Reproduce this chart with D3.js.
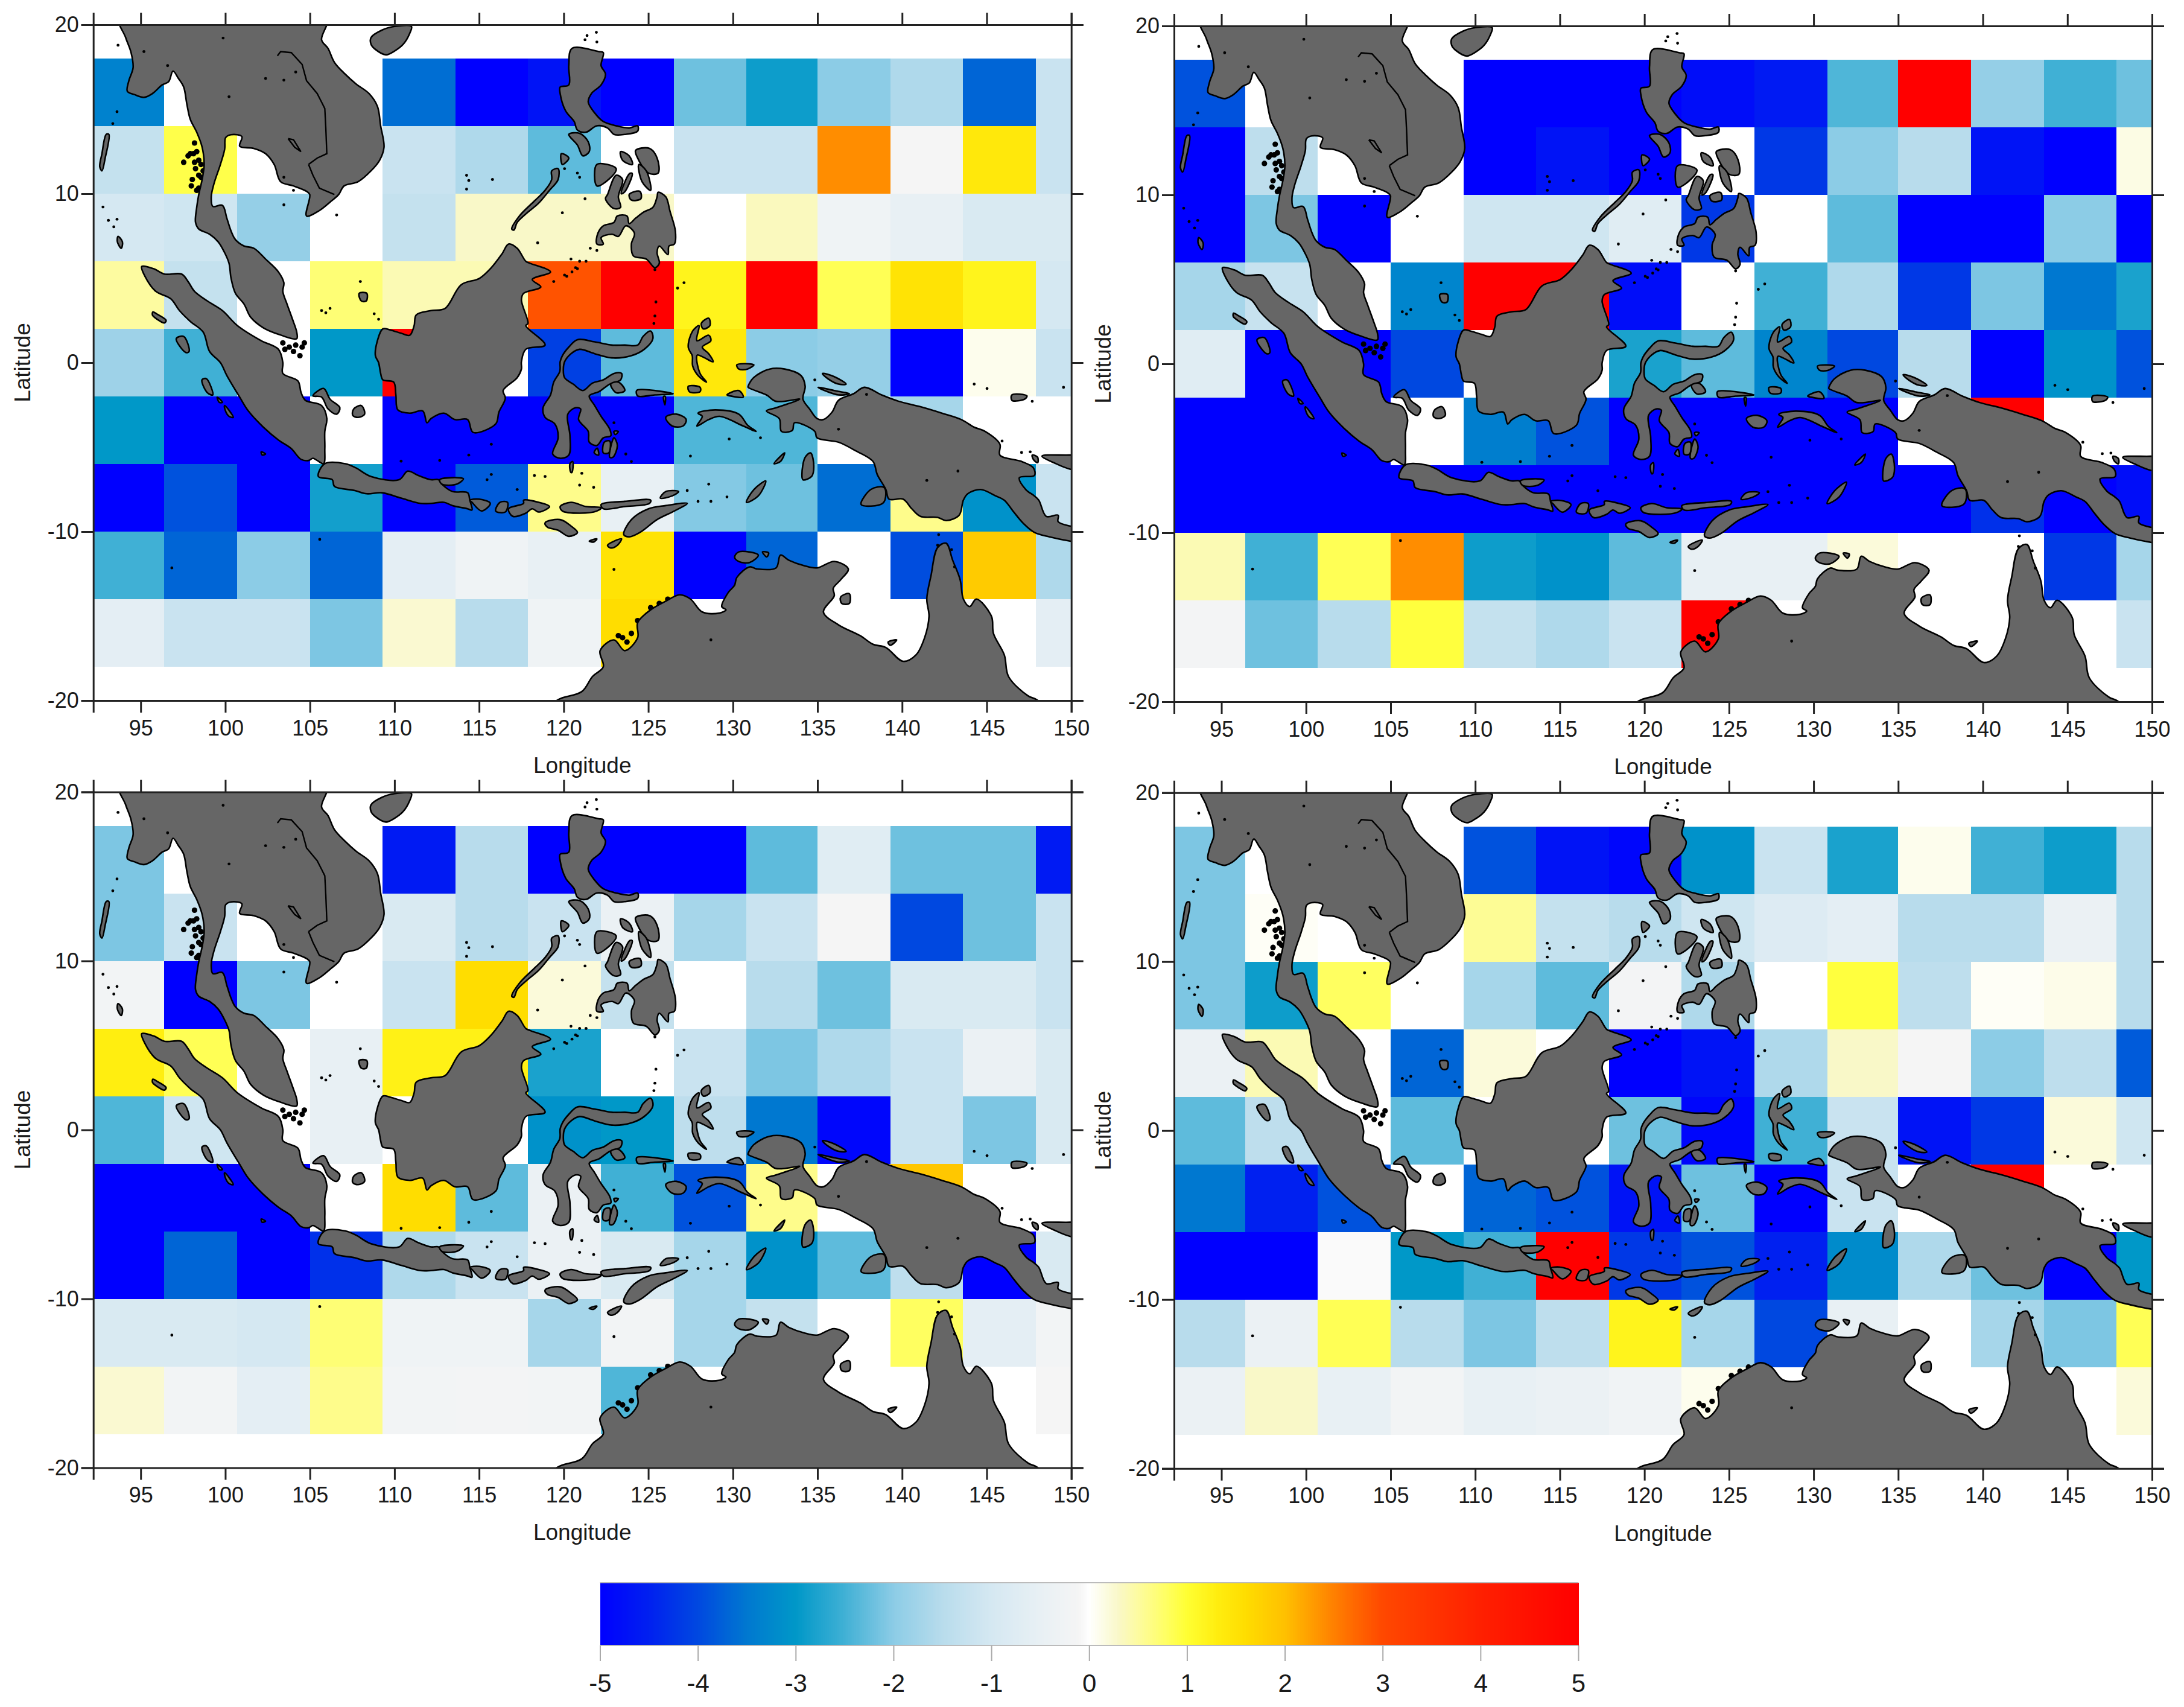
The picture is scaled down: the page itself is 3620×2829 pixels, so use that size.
<!DOCTYPE html>
<html><head><meta charset="utf-8">
<script src="https://cdnjs.cloudflare.com/ajax/libs/d3/7.8.5/d3.min.js"></script>
<style>html,body{margin:0;background:#fff}svg{display:block}text{font-family:"Liberation Sans",Arial,sans-serif;fill:#1a1a1a}</style>
</head><body><svg id="c" width="3620" height="2829"></svg>
<script>
const lonEdges=[92.2,96.4,100.7,105,109.3,113.6,117.9,122.2,126.5,130.8,135,139.3,143.6,147.9,150];
const latEdges=[18,14,10,6,2,-2,-6,-10,-14,-18];
const _=null;
const panelA=[
[-3.35,_,_,_,-3.6,-5,-4.7,-5,-2.2,-2.9,-2,-1.6,-3.7,-1.2],
[-1.3,0.9,_,_,-1.2,-1.6,-2.3,_,-1.2,-1.2,2.4,-0.1,1.4,-1.2],
[-1,-1.1,-1.9,_,-1.3,0.3,0.3,0.3,_,0.35,-0.3,-0.5,-0.9,-0.9],
[0.5,-1.3,_,0.7,0.4,0.4,2.9,5,1.2,5,0.85,1.5,1.2,-1],
[-1.8,-2.5,_,-3,5,_,-4.1,-2.3,1.4,-2,-1.9,-5,0.1,-1.2],
[-3,-5,-5,_,-5,-5,-5,-5,-2.4,-2.4,_,-1.7,_,_],
[-5,-3.9,-5,-2.85,-5,-3.8,0.6,-0.5,-2.05,-2.2,-3.6,0.6,-3.1,-1.2],
[-2.5,-3.7,-2,-3.7,-0.6,-0.3,-0.5,1.5,-5,-3.7,_,-3.95,1.85,-1.6],
[-0.6,-1.2,-1.2,-2.1,0.25,-1.5,-0.3,1.6,_,_,_,_,_,-0.6]];
const panelB=[
[-3.9,_,_,_,-5,-5,-5,-4.8,-4.6,-2.4,5,-1.9,-2.5,-2.2],
[-5,-1.4,_,_,-5,-4.7,-5,_,-4.2,-2,-1.5,-4.7,-5,0.15],
[-5,-2.1,-5,_,-1.1,-1.1,-0.7,-4.2,_,-2.3,-5,-5,-2,-5],
[-1.7,-1.25,_,-3.3,5,5,-4.8,_,-2.5,-1.6,-4.2,-2.1,-3.5,-2.8],
[-0.7,-5,-5,-4,_,_,-2.8,-2.3,-3.3,-4,-1.5,-5,-3.1,-3.9],
[-5,-5,-5,_,-3.4,-3.9,-5,-5,-5,-5,_,5,_,_],
[-5,-5,-5,-5,-5,-5,-5,-5,-5,-5,-5,-4.3,-5,-4.8],
[0.4,-2.5,0.85,2.4,-2.9,-3.1,-2.3,-0.5,-0.5,0.2,_,_,-4.2,-1.7],
[-0.15,-2.2,-1.5,0.95,-1.3,-1.6,-1.2,5,_,_,_,_,_,-1.2]];
const panelC=[
[-2.1,_,_,_,-4.6,-1.5,-5,-5,-5,-2.3,-0.7,-2.2,-2.2,-4.6],
[-2.1,-1.2,_,_,-0.9,-1.5,-1.2,-0.4,-1.7,-1.2,-0.1,-4,-2.2,-1.2],
[-0.2,-5,-2.1,_,-1.2,1.6,0.2,-1.3,_,-1.5,-2.2,-0.9,-0.9,-1.2],
[1.3,0.85,_,-0.5,1.25,1.25,-2.8,_,-1.2,-2.1,-1.6,-1.2,-0.4,-0.9],
[-2.4,-1.1,_,-0.5,_,_,-3.1,-3,-1.4,-3.5,-4.9,-1.2,-2.1,-0.9],
[-5,-5,-5,_,1.6,-2.3,-0.4,-2.5,-3.9,0.6,_,1.9,_,_],
[-5,-3.7,-5,-4.3,-1.6,-1.2,-0.4,-0.9,-1.7,-3.1,-2.3,-1.4,-5,-0.9],
[-0.9,-0.9,-1,0.7,-0.3,-0.3,-1.7,-0.2,-1.7,-1.3,_,0.8,-0.6,-0.2],
[0.25,-0.2,-0.6,0.6,-0.2,-0.15,-0.2,-2.4,_,_,_,_,_,-0.1]];
const panelD=[
[-2.1,_,_,_,-3.9,-4.7,-4.9,-3.1,-1.2,-2.8,0.1,-2.5,-2.9,-1.5],
[-2.1,0.05,_,_,0.55,-1.3,-1.5,-1.1,-0.8,-0.6,-1.5,-1.5,-0.4,-1.5],
[-2.1,-2.9,0.8,_,-1.7,-2.3,-0.15,-1.6,_,0.95,-1.4,0.05,0.12,-1.5],
[-0.4,0.4,_,-3.7,0.2,_,-5,-4.7,-1.6,0.3,-0.1,-2,-1.4,-3.8],
[-2.3,-1.4,_,-2.3,_,_,-2.2,-4.9,-2.5,-1.2,-4.7,-4.2,0.2,-1.1],
[-3.5,-4.5,-3.9,_,-3.7,-3.9,-4.7,-2.2,-5,-1.2,_,5,_,_],
[-5,-5,-0.05,-3,-2.5,5,-4.2,-3.9,-4.5,-3.2,-1.6,-2.2,-5,-3],
[-1.5,-0.4,0.85,-1.5,-2.1,-1.4,1.2,-1.7,-4,-0.5,_,-1.7,-2.1,0.85],
[-0.4,0.3,-0.5,-0.2,-0.5,-0.4,-0.25,0.1,_,_,_,_,_,0.2]];

const lonTicks=[95,100,105,110,115,120,125,130,135,140,145,150];
const latTicks=[-20,-10,0,10,20];
const barTicks=[-5,-4,-3,-2,-1,0,1,2,3,4,5];
const colorStops=[-5,-4.5,-4,-3.5,-3,-2.5,-2,-1.5,-1,-0.5,-0.1,0,0.3,0.5,0.8,1,1.3,1.6,2,2.5,3,4,5];
const colorValues=["#0000ff","#0020f0","#0048e0","#0078d0","#0098c8","#40b0d5","#8ccce6","#b8dcec","#d5e8f2","#e8f0f4","#f5f5f5","#ffffff","#f9f8c8","#fdfba0","#ffff60","#ffff33","#ffee10","#ffdd00","#ffc000","#ff8000","#ff4800","#ff2000","#ff0000"];

const landPolygons=[
[[93.73,20.5],[94.11,19.24],[94.43,18.35],[94.55,17.46],[94.30,16.69],[94.21,16.06],[94.62,15.87],[95.19,15.70],[95.70,15.93],[96.27,16.44],[96.65,16.63],[96.91,17.26],[97.23,16.82],[97.54,16.31],[97.73,15.29],[97.93,14.40],[98.31,13.64],[98.63,12.75],[98.75,11.73],[98.63,10.84],[98.43,9.95],[98.31,9.19],[98.24,8.30],[98.43,7.91],[99.07,7.60],[99.58,7.15],[99.96,6.51],[100.22,5.88],[100.34,4.99],[100.60,4.10],[101.11,3.46],[101.49,2.70],[102.25,2.06],[103.14,1.68],[104.22,1.42],[104.22,1.81],[103.97,2.57],[103.65,3.46],[103.40,4.22],[103.46,4.73],[103.14,5.37],[102.38,6.13],[101.68,6.77],[101.11,6.90],[100.60,7.28],[100.34,7.79],[100.09,8.55],[99.83,9.31],[99.26,9.25],[99.17,9.82],[99.33,10.59],[99.71,11.73],[99.96,12.62],[100.02,13.32],[100.34,13.49],[100.98,13.38],[100.85,12.81],[101.68,12.68],[102.38,12.37],[102.89,11.73],[103.27,10.71],[104.03,10.46],[104.80,10.14],[104.99,9.95],[104.80,8.68],[105.56,9.0],[106.19,9.50],[106.70,9.95],[107.02,10.46],[107.85,10.71],[108.61,11.35],[109.12,11.98],[109.38,12.75],[109.18,14.02],[108.99,15.17],[108.49,15.93],[107.72,16.50],[107.09,17.07],[106.45,17.77],[106.07,18.60],[105.69,19.11],[106.0,20.5]],
[[108.61,19.24],[109.25,19.68],[110.01,19.9],[111.0,19.9],[110.9,19.49],[110.52,18.85],[109.95,18.41],[109.50,18.22],[108.87,18.54],[108.61,18.85]],
[[95.06,5.69],[95.25,5.11],[95.89,4.22],[96.78,3.78],[97.29,3.08],[97.93,2.44],[98.69,1.81],[99.07,0.66],[99.71,0],[100.09,-0.76],[100.85,-2.04],[101.36,-2.86],[102.25,-3.82],[103.14,-4.58],[103.90,-5.09],[104.48,-5.73],[104.92,-5.79],[105.18,-5.66],[105.43,-5.79],[105.81,-5.98],[105.88,-5.09],[105.88,-4.07],[106.0,-3.31],[105.69,-2.54],[104.73,-2.23],[104.48,-1.78],[104.29,-1.08],[103.40,-0.64],[103.40,0],[103.14,0.79],[102.12,1.30],[100.72,2.19],[99.83,3.08],[98.94,3.65],[98.18,4.22],[97.80,4.80],[97.42,5.24],[96.40,5.24],[95.76,5.56]],
[[105.18,-1.97],[105.81,-1.53],[106.19,-2.16],[106.77,-2.67],[106.58,-3.05],[106.07,-2.74],[105.69,-2.04]],
[[107.59,-2.74],[108.04,-2.54],[108.23,-3.05],[107.85,-3.24],[107.53,-3.12]],
[[105.50,-6.74],[105.88,-5.98],[107.09,-5.98],[107.72,-6.23],[108.61,-6.74],[110.27,-6.93],[110.78,-6.42],[111.41,-6.68],[112.16,-6.93],[112.61,-6.93],[112.80,-7.19],[113.43,-7.63],[114.32,-7.70],[114.45,-8.14],[114.58,-8.72],[114.32,-8.65],[113.43,-8.46],[112.92,-8.27],[112.16,-8.33],[111.54,-8.33],[110.39,-8.02],[109.25,-7.70],[108.36,-7.76],[107.66,-7.57],[106.45,-7.32],[106.32,-6.93]],
[[112.67,-6.93],[114.07,-6.87],[113.69,-7.19],[112.80,-7.19]],
[[114.45,-8.14],[115.02,-8.08],[115.66,-8.33],[115.15,-8.78],[114.58,-8.27]],
[[115.98,-8.78],[116.23,-8.27],[116.68,-8.27],[116.55,-8.84]],
[[116.74,-8.65],[117.63,-8.33],[117.63,-8.14],[118.52,-8.27],[119.16,-8.52],[118.52,-8.84],[118.14,-8.65],[117.76,-8.91],[116.99,-9.10]],
[[119.79,-8.52],[120.43,-8.27],[121.32,-8.52],[122.21,-8.59],[121.96,-8.78],[120.94,-8.91],[119.92,-8.78]],
[[122.21,-8.40],[123.61,-8.21],[125.14,-8.14],[125.07,-8.33],[123.61,-8.52],[122.34,-8.65]],
[[118.90,-9.48],[119.79,-9.29],[120.43,-9.67],[120.81,-10.05],[120.30,-10.28],[119.67,-9.92],[119.03,-9.73]],
[[123.55,-10.18],[124.0,-9.29],[125.01,-8.65],[126.03,-8.46],[127.30,-8.33],[126.54,-8.78],[125.52,-9.29],[124.50,-10.05],[123.87,-10.31]],
[[122.59,-10.81],[123.42,-10.43],[123.17,-10.81],[122.78,-10.97]],
[[125.71,-8.02],[126.03,-7.63],[126.79,-7.63],[126.41,-7.89]],
[[130.80,-8.27],[131.24,-7.51],[131.94,-7.0],[131.50,-7.89]],
[[121.51,-10.56],[121.96,-10.43],[121.77,-10.62]],
[[109.31,2.0],[109.76,1.93],[110.39,1.74],[110.90,1.62],[111.16,2.19],[111.28,2.82],[112.15,3.08],[112.99,3.21],[113.94,4.61],[115.02,4.99],[115.72,5.62],[116.36,6.45],[116.74,7.02],[117.25,6.77],[117.76,6.0],[118.01,5.88],[119.22,5.37],[118.14,4.92],[118.65,4.48],[117.63,4.10],[117.50,3.71],[117.89,2.32],[117.76,2.19],[118.90,1.04],[117.76,0.79],[117.50,0.05],[117.50,-0.38],[117.25,-0.89],[116.42,-1.65],[116.55,-2.10],[116.17,-2.93],[115.98,-3.63],[114.64,-4.13],[114.32,-3.37],[113.56,-3.37],[112.92,-2.99],[112.16,-3.31],[111.92,-3.56],[111.67,-2.86],[110.90,-2.99],[110.20,-2.80],[110.08,-1.91],[109.95,-1.15],[109.31,-1.02],[109.18,-0.64],[109.06,0],[108.87,0.41],[108.99,1.30]],
[[125.14,1.87],[124.69,1.55],[124.37,1.04],[123.61,1.04],[122.85,1.04],[121.83,1.23],[120.81,1.36],[120.30,0.92],[119.92,0.41],[119.79,0.05],[119.77,-0.51],[119.41,-1.15],[119.22,-1.91],[118.78,-2.67],[118.90,-3.24],[119.48,-3.63],[119.67,-4.45],[119.35,-5.41],[119.79,-5.66],[120.30,-5.47],[120.37,-4.33],[120.24,-3.05],[120.69,-2.67],[121.0,-2.74],[120.88,-3.37],[121.45,-4.07],[121.51,-4.71],[121.96,-4.90],[122.34,-4.45],[122.78,-4.33],[122.72,-3.94],[122.21,-3.18],[121.83,-2.54],[121.51,-1.97],[122.08,-1.72],[122.72,-1.27],[123.36,-1.02],[123.42,-0.64],[122.97,-0.64],[122.34,-1.02],[121.70,-1.21],[121.13,-1.65],[120.56,-1.27],[120.05,-0.89],[119.98,-0.38],[120.05,0.05],[120.43,0.53],[120.94,0.79],[121.83,0.53],[122.85,0.28],[123.99,0.41],[124.76,0.79],[125.27,1.42]],
[[120.37,-5.98],[120.53,-5.85],[120.49,-6.49],[120.42,-6.49]],
[[122.72,-5.60],[122.97,-4.45],[123.17,-4.90],[122.91,-5.60]],
[[122.34,-5.34],[122.40,-4.71],[122.72,-4.64],[122.66,-5.34]],
[[121.80,-5.34],[121.98,-5.06],[122.06,-5.47]],
[[122.97,-4.07],[123.23,-4.07],[123.04,-4.26]],
[[122.78,-1.27],[123.23,-1.15],[123.61,-1.65],[123.10,-1.78]],
[[124.31,-1.65],[124.63,-1.59],[126.47,-1.84],[125.39,-1.91],[124.37,-1.97]],
[[125.9,-2.0],[126.0,-2.0],[125.98,-2.5]],
[[126.03,-3.24],[126.66,-3.05],[127.24,-3.37],[127.05,-3.75],[126.41,-3.75]],
[[127.94,-2.99],[128.95,-2.80],[130.35,-3.05],[130.86,-3.69],[131.37,-4.07],[130.61,-3.75],[129.21,-3.18],[128.57,-3.37],[127.87,-3.75],[128.19,-3.18]],
[[127.36,0.92],[127.62,1.87],[128.0,2.19],[127.87,1.30],[128.57,1.62],[128.70,1.30],[128.19,0.92],[128.57,0.53],[128.83,0.05],[128.3,0.3],[127.9,0.45],[127.85,0.3],[128.06,-0.64],[128.44,-1.15],[127.94,-0.76],[127.62,-0.19],[127.6,0.4]],
[[128.13,2.32],[128.57,2.63],[128.64,2.19],[128.25,2.0]],
[[127.36,-1.40],[128.06,-1.46],[128.06,-1.72],[127.43,-1.72]],
[[129.65,-1.91],[130.35,-1.65],[130.61,-2.04],[129.84,-1.97]],
[[130.23,-0.13],[131.24,-0.13],[130.86,-0.38],[130.35,-0.38]],
[[130.9,-1.40],[131.22,-0.89],[132.17,-0.38],[133.06,-0.38],[134.02,-0.76],[134.27,-1.40],[134.14,-2.16],[134.53,-2.74],[134.97,-3.31],[135.35,-3.37],[135.86,-2.93],[136.24,-2.23],[137.13,-1.84],[137.77,-1.46],[138.79,-1.91],[139.81,-2.29],[141.08,-2.61],[142.35,-2.99],[143.50,-3.37],[144.26,-3.82],[144.90,-4.07],[145.78,-4.83],[145.78,-5.47],[147.06,-5.85],[147.76,-6.23],[147.82,-6.68],[146.93,-6.81],[147.31,-7.51],[147.82,-7.89],[148.08,-8.14],[148.52,-9.10],[149.22,-9.03],[149.22,-9.41],[149.92,-9.67],[151,-9.8],[151,-10.7],[149.92,-10.56],[148.71,-10.31],[147.82,-10.05],[147.19,-9.54],[146.55,-8.78],[146.04,-8.14],[145.53,-7.89],[144.64,-7.51],[143.88,-7.76],[143.62,-8.14],[143.37,-9.03],[142.60,-9.35],[142.10,-9.16],[141.08,-9.10],[140.57,-8.65],[140.06,-8.08],[139.23,-8.08],[139.04,-7.51],[138.53,-6.62],[138.28,-5.85],[137.26,-5.22],[136.24,-4.71],[134.97,-4.45],[134.84,-4.07],[133.64,-3.56],[133.51,-4.01],[132.87,-4.07],[132.74,-3.31],[131.98,-2.86],[132.55,-2.67],[133.95,-2.16],[132.55,-2.29],[131.98,-1.91],[130.9,-1.46]],
[[137.58,-8.40],[138.15,-7.51],[138.92,-7.38],[139.04,-7.76],[138.85,-8.33]],
[[148.27,-5.53],[149.92,-5.47],[151,-5.4],[151,-6.4],[149.92,-6.30],[149.09,-5.98]],
[[147.69,-5.47],[148.01,-5.60],[148.01,-5.92],[147.76,-5.73]],
[[135.29,-0.64],[135.99,-0.83],[136.69,-1.27],[136.24,-1.27],[135.61,-0.95]],
[[135.03,-1.46],[135.99,-1.65],[136.88,-1.84],[136.24,-1.91],[135.42,-1.65]],
[[134.08,-6.62],[134.27,-5.60],[134.59,-5.34],[134.78,-6.11],[134.65,-6.74],[134.14,-6.93]],
[[132.43,-5.98],[133.06,-5.34],[132.81,-5.85]],
[[146.49,-1.91],[147.38,-1.97],[147.25,-2.16],[146.49,-2.23]],
[[119.0,-20.6],[119.67,-19.95],[121.07,-19.47],[121.70,-18.58],[122.34,-18.0],[122.15,-17.05],[122.97,-16.41],[123.61,-17.05],[124.37,-16.28],[124.37,-15.39],[125.14,-14.63],[126.03,-14.12],[126.86,-13.74],[127.49,-13.99],[128.19,-14.76],[129.21,-14.82],[129.59,-14.63],[129.34,-14.44],[129.72,-13.61],[130.10,-13.17],[130.23,-12.72],[130.99,-12.09],[131.41,-12.21],[132.55,-12.15],[132.81,-11.39],[133.32,-11.70],[134.21,-12.02],[134.97,-12.15],[135.99,-11.77],[136.82,-12.21],[136.37,-12.85],[135.93,-13.36],[135.99,-13.80],[135.35,-14.76],[136.24,-15.52],[137.52,-16.16],[138.28,-16.67],[139.04,-16.86],[140.06,-17.68],[140.82,-17.30],[141.33,-16.28],[141.59,-15.01],[141.46,-13.99],[141.71,-12.60],[142.10,-10.94],[142.60,-10.69],[142.99,-11.70],[143.43,-12.85],[143.62,-13.99],[144.0,-14.44],[144.39,-13.99],[145.28,-15.01],[145.40,-16.03],[146.04,-17.30],[146.29,-18.58],[147.44,-19.72],[147.95,-19.95],[148.6,-20.6]],
[[136.37,-13.87],[136.88,-13.68],[136.88,-14.25],[136.43,-14.25]],
[[130.10,-11.51],[130.35,-11.20],[131.50,-11.39],[130.99,-11.83],[130.35,-11.77]],
[[131.75,-11.2],[132.11,-11.26],[132.0,-11.5]],
[[139.17,-16.54],[139.68,-16.41],[139.3,-16.73]],
[[120.49,18.6],[122.08,18.41],[122.34,18.35],[122.21,17.58],[122.47,17.07],[122.21,16.44],[121.64,15.93],[121.45,15.42],[121.83,14.78],[122.34,14.27],[123.10,14.02],[123.87,13.89],[124.37,14.02],[124.37,13.70],[123.61,13.51],[122.97,13.51],[122.59,13.89],[121.96,14.02],[121.32,13.64],[120.81,13.77],[120.62,14.27],[120.11,14.91],[119.79,15.93],[119.79,16.31],[120.30,16.44],[120.30,17.58]],
[[120.30,13.51],[120.94,13.57],[121.45,13.07],[121.51,12.49],[121.13,12.24],[120.81,12.88]],
[[116.93,7.91],[117.38,8.68],[118.27,9.57],[118.90,10.20],[119.29,10.84],[119.29,11.35],[119.67,11.48],[119.67,10.84],[119.16,10.20],[118.52,9.44],[117.76,8.80],[117.25,8.30],[117.06,7.85]],
[[119.86,12.37],[120.30,12.11],[119.92,11.73]],
[[124.25,12.56],[125.07,12.68],[125.52,12.11],[125.58,11.22],[125.01,11.22],[124.37,12.11]],
[[124.44,11.73],[124.88,11.35],[125.14,10.20],[124.63,10.71]],
[[122.59,9.95],[123.10,11.09],[123.48,10.84],[123.23,9.82],[123.36,9.19],[122.97,9.12],[122.47,9.70]],
[[121.96,11.73],[123.10,11.48],[122.72,10.90],[121.96,10.46]],
[[123.40,10.0],[123.90,11.2],[124.05,11.2],[123.6,10.1]],
[[123.87,9.95],[124.50,10.14],[124.56,9.70],[123.99,9.63]],
[[123.36,12.49],[123.87,12.24],[124.06,11.73],[123.48,11.98]],
[[125.58,10.08],[126.03,9.82],[126.29,8.93],[126.60,7.79],[126.54,7.02],[126.22,6.90],[126.16,6.39],[125.65,6.90],[125.52,6.51],[125.65,5.88],[125.39,5.62],[124.88,6.13],[124.12,6.32],[124.0,7.02],[124.18,7.66],[123.67,8.10],[123.23,7.47],[122.85,7.60],[122.21,7.40],[122.34,7.02],[121.96,7.02],[122.02,7.66],[122.34,8.10],[122.97,8.30],[123.17,8.68],[123.74,8.68],[123.87,8.23],[124.25,8.55],[124.76,8.93],[125.27,9.19],[125.52,9.82]],
[[92.71,12.37],[92.96,13.51],[93.12,13.51],[92.9,12.11],[92.71,11.35],[92.58,11.6]],
[[93.66,7.47],[93.92,7.15],[93.85,6.77],[93.62,7.15]],
[[107.91,4.10],[108.36,4.10],[108.33,3.65],[108.04,3.65]],
[[95.72,3.0],[96.0,2.85],[96.5,2.5],[96.4,2.35],[96.0,2.55],[95.7,2.8]],
[[97.10,1.42],[97.54,1.55],[97.86,0.66],[97.67,0.60]],
[[98.62,-1.02],[98.88,-0.95],[99.26,-1.91],[98.94,-1.78]],
[[99.52,-2.04],[99.83,-2.35],[99.64,-2.35]],
[[99.96,-2.54],[100.47,-3.24],[100.22,-3.18],[99.99,-2.80]],
[[102.12,-5.28],[102.38,-5.41],[102.18,-5.47]]
];
const borderLines=[
[[103.08,18.16],[103.27,18.41],[103.90,18.35],[104.54,17.65],[104.80,16.69],[105.43,15.93],[105.69,15.42],[105.88,15.04],[105.94,13.89],[106.0,12.37],[105.43,12.11],[104.92,11.73]],
[[104.92,11.73],[105.18,11.09],[105.56,10.33],[106.45,9.95]],
[[103.71,13.26],[104.03,13.19],[104.47,12.49],[104.10,12.75],[103.71,13.26]]
];
const islets=[
[106.19,3.21],[105.69,3.08],[105.94,2.95],[108.80,2.89],[109.06,2.57],[107.98,4.80],
[93.60,14.85],[93.35,14.15],[92.77,9.21],[93.41,8.04],[93.09,8.42],[93.6,8.49],
[103.46,10.97],[104.03,10.20],[106.58,8.74],[103.46,9.34],
[102.38,16.82],[103.46,16.72],[104.16,17.20],[100.22,15.74],[99.87,19.21],[95.19,18.41],[96.59,17.58],[93.66,18.79],
[121.38,19.36],[121.96,18.98],[121.26,19.11],[121.93,19.55],
[114.26,11.09],[114.39,10.78],[114.26,10.27],[115.79,10.84],[119.92,8.87],[118.46,7.09],[121.26,9.7],[120.81,11.22],[120.94,10.97],[120.05,11.48],
[120.43,6.13],[120.94,6.0],[121.32,6.0],[120.18,5.11],[120.81,5.56],[120.49,5.37],[119.41,4.8],[121.96,6.64],[121.57,6.77],
[125.39,5.5],[125.45,3.59],[125.39,2.76],[125.33,2.32],[126.73,4.41],[127.11,4.73],
[112.67,-5.79],[115.72,-6.62],[115.47,-6.93],[118.9,-6.74],[120.94,-7.25],[121.07,-6.55],[121.77,-7.38],[118.27,-6.68],[117.25,-7.51],[122.97,-12.24],[114.39,-5.47],[115.72,-4.83],[122.97,-3.56],[123.67,-5.41],[124.0,-5.85],[128.57,-7.19],[127.3,-7.57],[127.94,-8.21],[128.7,-8.21],[129.65,-7.95],[129.78,-4.52],[127.49,-5.53],[131.63,-4.45],
[96.84,-12.15],[105.58,-10.46],[110.39,-5.83],
[145.91,-4.64],[147.06,-5.32],[147.57,-5.28],[134.84,-1.02],[149.54,-1.46],[144.26,-1.27],[145.02,-1.53],[147.69,-2.29],[141.46,-6.97],[143.3,-6.42],[136.24,-3.94],[137.9,-1.88],
[128.7,-16.41],[120.05,5.18],[120.7,5.62],[142.16,-10.18],[142.1,-10.81],[142.92,-11.07],[143.1,-12.09]
];
const clumps=[
[97.93,12.37],[98.18,11.86],[98.31,12.49],[98.56,11.73],[98.05,10.84],[98.43,11.09],[98.69,11.35],[97.80,12.24],[97.99,10.46],[98.31,10.20],[98.12,12.37],[98.43,11.98],[98.24,11.48],[98.56,10.97],[97.54,11.86],[98.18,13.0],[98.43,10.33],
[103.40,1.17],[103.78,0.92],[104.16,1.04],[104.54,0.92],[104.03,0.66],[104.41,0.41],[103.52,0.79],[104.67,1.17],
[125.14,-14.5],[125.65,-14.25],[126.15,-14.0],[124.88,-15.01],[125.39,-15.01],[124.37,-15.27],[123.48,-16.28],[123.23,-16.16],[124.0,-16.03],[125.01,-15.39],[125.9,-14.38],[123.74,-16.54]
];
const panels=[panelA,panelB,panelC,panelD];
const panelLeft=[154.7,1946,154.7,1946], panelTop=[41,43,1312.5,1313.7];
const W=1621,H=1120;
const color=d3.scaleLinear().domain(colorStops).range(colorValues).clamp(true);
const svg=d3.select("#c");
const x=d3.scaleLinear().domain([92.2,150]).range([0,W]);
const y=d3.scaleLinear().domain([20,-20]).range([0,H]);
const line=d3.line().x(d=>x(d[0])).y(d=>y(d[1]));
const closedLine=d3.line().x(d=>x(d[0])).y(d=>y(d[1])).curve(d3.curveCatmullRomClosed.alpha(0.5));
svg.append("defs").append("clipPath").attr("id","frame").append("rect").attr("width",W).attr("height",H);
const plain=d=>String(d);
function styleAxis(g){
  g.selectAll(".domain").attr("stroke","#222").attr("stroke-width",3);
  g.selectAll(".tick line").attr("stroke","#222").attr("stroke-width",3);
  g.selectAll("text").attr("font-size",36).style("fill","#1a1a1a").style("font-family",'"Liberation Sans",Arial,sans-serif');
}
panels.forEach((vals,pi)=>{
  const g=svg.append("g").attr("transform",`translate(${panelLeft[pi]},${panelTop[pi]})`);
  const plot=g.append("g").attr("clip-path","url(#frame)");
  vals.forEach((row,r)=>row.forEach((v,c)=>{
    if(v===null)return;
    plot.append("rect").attr("x",x(lonEdges[c])).attr("y",y(latEdges[r]))
      .attr("width",x(lonEdges[c+1])-x(lonEdges[c])).attr("height",y(latEdges[r+1])-y(latEdges[r]))
      .attr("fill",color(v)).attr("shape-rendering","crispEdges");
  }));
  plot.selectAll("circle.clump").data(clumps).join("circle").attr("class","clump").attr("cx",d=>x(d[0])).attr("cy",d=>y(d[1])).attr("r",4.6).attr("fill","#000");
  plot.selectAll("path.land").data(landPolygons).join("path").attr("class","land")
    .attr("d",d=>closedLine(d)).attr("fill","#666666").attr("stroke","#000").attr("stroke-width",2.6).attr("stroke-linejoin","round");
  plot.selectAll("path.border").data(borderLines).join("path").attr("class","border")
    .attr("d",d=>line(d)).attr("fill","none").attr("stroke","#000").attr("stroke-width",2.4);
  plot.selectAll("circle.islet").data(islets).join("circle").attr("class","islet").attr("cx",d=>x(d[0])).attr("cy",d=>y(d[1])).attr("r",2.4).attr("fill","#000");
  g.append("g").attr("transform",`translate(0,${H})`).call(d3.axisBottom(x).tickValues(lonTicks).tickSize(20).tickPadding(12).tickFormat(plain)).call(styleAxis);
  g.append("g").call(d3.axisTop(x).tickValues(lonTicks).tickSize(20).tickFormat("")).call(styleAxis);
  g.append("g").call(d3.axisLeft(y).tickValues(latTicks).tickSize(20).tickPadding(4).tickFormat(plain)).call(styleAxis);
  g.append("g").attr("transform",`translate(${W},0)`).call(d3.axisRight(y).tickValues(latTicks).tickSize(20).tickFormat("")).call(styleAxis);
  g.append("text").attr("x",W/2).attr("y",H+107).attr("dy","0.35em").attr("text-anchor","middle").attr("font-size",37).text("Longitude");
  g.append("text").attr("transform",`translate(-118,${H/2}) rotate(-90)`).attr("dy","0.35em").attr("text-anchor","middle").attr("font-size",37).text("Latitude");
});
const bx=d3.scaleLinear().domain([-5,5]).range([994.5,2616]);
const by0=2623,by1=2727;
const bar=svg.append("g");
const steps=d3.range(-5,5,0.02);
bar.selectAll("rect").data(steps).join("rect").attr("x",d=>bx(d)).attr("y",by0)
  .attr("width",bx(0.02)-bx(0)+0.6).attr("height",by1-by0).attr("fill",d=>color(d+0.01)).attr("shape-rendering","crispEdges");
[by0,by1].forEach(v=>bar.append("line").attr("x1",bx(-5)).attr("x2",bx(5)).attr("y1",v).attr("y2",v).attr("stroke","#bbb").attr("stroke-width",2));
const ba=svg.append("g").attr("transform",`translate(0,${by1})`).call(d3.axisBottom(bx).tickValues(barTicks).tickSize(26).tickPadding(21).tickFormat(plain));
ba.select(".domain").remove();
ba.selectAll(".tick line").attr("stroke","#aaa").attr("stroke-width",2);
ba.selectAll("text").attr("font-size",42).style("fill","#1a1a1a").style("font-family",'"Liberation Sans",Arial,sans-serif');
</script></body></html>
